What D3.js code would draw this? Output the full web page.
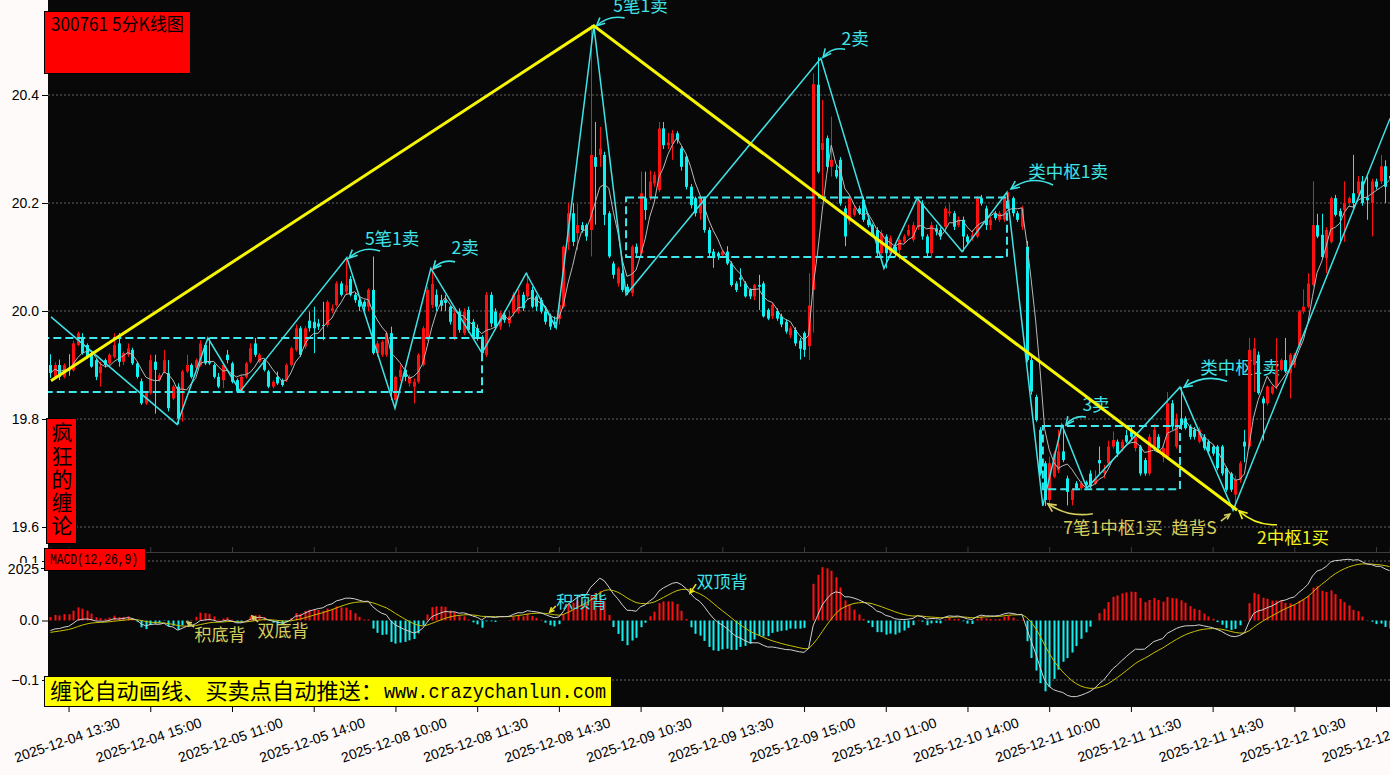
<!DOCTYPE html>
<html><head><meta charset="utf-8">
<script src="https://cdn.jsdelivr.net/npm/d3@7"></script>
<style>
html,body{margin:0;padding:0;background:#fffafa;overflow:hidden;}
svg{display:block;}
</style></head>
<body>
<svg id="c" width="1390" height="775"></svg>
<script>
// ---------------- DATA (5-minute bars, index 0 = 2025-12-04 13:10) ----------------
const open = [19.900,19.878,19.900,19.878,19.895,19.890,19.937,19.952,19.937,19.922,19.909,19.885,19.909,19.903,19.915,19.940,19.906,19.919,19.928,19.903,19.870,19.829,19.848,19.906,19.872,19.888,19.885,19.838,19.860,19.854,19.888,19.900,19.895,19.900,19.937,19.906,19.900,19.878,19.872,19.919,19.903,19.872,19.851,19.878,19.906,19.940,19.906,19.909,19.888,19.860,19.878,19.872,19.872,19.900,19.928,19.968,
19.934,19.982,19.980,19.977,19.974,19.974,20.000,20.011,20.051,20.036,20.059,20.030,20.020,20.017,20.008,20.039,19.922,19.919,19.919,19.959,19.835,19.878,19.891,19.866,19.860,19.869,19.900,19.949,20.011,20.030,20.020,20.020,20.008,19.952,19.999,19.959,20.002,19.980,19.968,19.952,19.919,20.030,19.999,19.971,19.993,19.977,19.996,19.999,20.030,20.027,20.039,20.027,20.020,19.999,19.990,19.980,19.985,
20.008,20.128,20.181,20.144,20.159,20.159,20.150,20.285,20.289,20.289,20.181,20.088,20.051,20.070,20.045,20.033,20.119,20.107,20.209,20.209,20.236,20.224,20.338,20.307,20.310,20.329,20.301,20.286,20.230,20.209,20.181,20.209,20.150,20.110,20.107,20.104,20.110,20.088,20.051,20.062,20.051,20.039,20.027,20.048,20.051,20.002,19.990,20.000,19.990,19.980,19.955,19.965,19.945,19.959,
19.935,20.039,20.419,20.298,20.320,20.267,20.261,20.280,20.190,20.166,20.178,20.190,20.206,20.169,20.159,20.150,20.107,20.138,20.107,20.119,20.113,20.128,20.141,20.132,20.156,20.199,20.138,20.107,20.153,20.150,20.156,20.181,20.181,20.159,20.169,20.138,20.135,20.138,20.209,20.190,20.159,20.181,20.169,20.169,20.190,20.209,20.181,20.156,
20.119,19.909,19.841,19.780,19.718,19.650,19.693,19.705,19.740,19.690,19.650,19.681,19.672,19.683,19.699,19.680,19.724,19.700,19.718,19.749,19.758,19.746,19.770,19.777,19.746,19.749,19.724,19.699,19.749,19.767,19.730,19.730,19.829,19.749,19.801,19.801,19.786,19.780,19.758,19.767,19.758,19.749,19.749,19.749,19.709,19.699,19.660,19.687,
19.758,19.749,19.900,19.919,19.838,19.829,19.848,19.860,19.891,19.909,19.885,19.900,19.937,19.999,20.008,20.048,20.159,20.141,20.098,20.128,20.209,20.185,20.187,20.200,20.218,20.218,20.240,20.210,20.200,20.240,20.240,20.268,20.250];
const high = [19.920,19.905,19.910,19.903,19.920,19.945,19.962,19.959,19.940,19.925,19.912,19.906,19.912,19.922,19.959,19.959,19.925,19.940,19.932,19.906,19.875,19.851,19.919,19.919,19.885,19.928,19.909,19.863,19.866,19.891,19.919,19.903,19.912,19.946,19.940,19.950,19.903,19.885,19.903,19.928,19.906,19.875,19.881,19.906,19.940,19.950,19.922,19.912,19.891,19.872,19.888,19.875,19.903,19.934,19.975,19.972,
19.972,19.999,20.008,19.985,20.017,20.020,20.012,20.055,20.055,20.099,20.065,20.035,20.025,20.020,20.042,20.101,19.945,19.946,19.962,19.971,19.880,19.900,19.895,19.882,19.875,19.922,19.972,20.045,20.079,20.040,20.030,20.030,20.010,20.000,20.005,20.005,20.008,19.985,19.975,19.955,20.035,20.035,20.005,20.000,19.999,19.999,20.035,20.040,20.035,20.070,20.045,20.030,20.025,20.005,19.995,19.990,20.015,
20.122,20.200,20.200,20.199,20.165,20.162,20.530,20.350,20.341,20.295,20.185,20.092,20.082,20.075,20.050,20.122,20.125,20.258,20.258,20.260,20.258,20.350,20.350,20.330,20.335,20.333,20.305,20.290,20.235,20.212,20.212,20.212,20.155,20.115,20.110,20.113,20.120,20.092,20.055,20.079,20.055,20.042,20.050,20.067,20.055,20.005,20.015,20.005,19.995,19.985,19.972,19.970,19.950,19.962,
20.070,20.440,20.470,20.391,20.325,20.360,20.270,20.285,20.195,20.212,20.195,20.195,20.212,20.172,20.162,20.155,20.150,20.142,20.140,20.125,20.135,20.142,20.160,20.165,20.212,20.205,20.142,20.165,20.160,20.155,20.195,20.199,20.185,20.175,20.175,20.142,20.150,20.212,20.215,20.195,20.175,20.185,20.185,20.212,20.220,20.212,20.185,20.195,
20.130,19.915,19.845,19.785,19.722,19.730,19.740,19.780,19.789,19.695,19.672,19.685,19.685,19.686,19.705,19.705,19.749,19.715,19.760,19.777,19.762,19.762,19.780,19.787,19.772,19.752,19.728,19.772,19.790,19.772,19.750,19.850,19.835,19.810,19.859,19.805,19.790,19.785,19.785,19.772,19.762,19.752,19.752,19.752,19.712,19.702,19.695,19.722,
19.780,19.950,19.950,19.925,19.842,19.862,19.862,19.950,19.912,19.950,19.922,19.922,20.002,20.040,20.070,20.240,20.180,20.180,20.155,20.212,20.215,20.190,20.240,20.212,20.289,20.250,20.250,20.249,20.245,20.245,20.289,20.279,20.260];
const low = [19.876,19.875,19.872,19.875,19.880,19.888,19.935,19.919,19.912,19.895,19.872,19.860,19.895,19.900,19.912,19.897,19.900,19.915,19.900,19.875,19.826,19.826,19.845,19.810,19.869,19.885,19.814,19.835,19.790,19.795,19.885,19.875,19.892,19.897,19.900,19.900,19.875,19.857,19.857,19.903,19.866,19.849,19.849,19.875,19.903,19.915,19.903,19.888,19.857,19.857,19.863,19.860,19.869,19.897,19.925,19.915,
19.930,19.962,19.922,19.965,19.946,19.970,19.996,20.008,20.027,20.030,20.027,20.015,20.000,20.000,20.000,19.919,19.915,19.915,19.915,19.835,19.820,19.870,19.870,19.860,19.829,19.866,19.897,19.945,20.005,20.000,20.000,20.000,19.975,19.946,19.960,19.955,19.960,19.948,19.945,19.920,19.915,19.970,19.965,19.965,19.978,19.970,19.990,19.995,20.000,20.020,20.005,20.000,19.995,19.975,19.965,19.969,19.975,
20.005,20.113,20.120,20.113,20.145,20.130,20.101,20.160,20.267,20.159,20.098,20.060,20.045,20.035,20.030,20.027,20.100,20.100,20.169,20.205,20.230,20.220,20.300,20.300,20.280,20.310,20.260,20.225,20.190,20.175,20.169,20.145,20.100,20.080,20.095,20.100,20.085,20.045,20.035,20.045,20.025,20.022,20.020,20.002,19.988,19.983,19.985,19.982,19.970,19.958,19.950,19.935,19.910,19.915,
19.909,19.960,20.255,20.212,20.262,20.249,20.245,20.195,20.120,20.160,20.175,20.178,20.165,20.155,20.138,20.100,20.100,20.079,20.100,20.100,20.095,20.125,20.138,20.128,20.150,20.132,20.100,20.100,20.140,20.132,20.150,20.175,20.150,20.155,20.110,20.122,20.130,20.135,20.195,20.150,20.150,20.168,20.165,20.165,20.185,20.175,20.165,20.150,
19.905,19.845,19.795,19.695,19.639,19.645,19.690,19.700,19.720,19.640,19.640,19.668,19.668,19.672,19.672,19.678,19.699,19.690,19.715,19.745,19.730,19.740,19.755,19.762,19.740,19.695,19.695,19.695,19.745,19.740,19.720,19.725,19.780,19.745,19.780,19.780,19.762,19.762,19.755,19.742,19.735,19.732,19.705,19.695,19.665,19.665,19.631,19.682,
19.720,19.745,19.850,19.845,19.760,19.825,19.845,19.855,19.888,19.885,19.838,19.895,19.932,19.995,20.005,20.045,20.135,20.098,20.070,20.125,20.175,20.128,20.128,20.195,20.190,20.215,20.195,20.169,20.138,20.225,20.235,20.200,20.240];
const close = [19.885,19.900,19.878,19.900,19.890,19.940,19.959,19.922,19.915,19.897,19.878,19.897,19.900,19.919,19.937,19.906,19.922,19.931,19.903,19.878,19.829,19.848,19.909,19.891,19.881,19.909,19.820,19.860,19.801,19.888,19.900,19.878,19.909,19.940,19.903,19.903,19.878,19.860,19.900,19.909,19.869,19.851,19.878,19.903,19.931,19.919,19.919,19.891,19.860,19.869,19.866,19.863,19.900,19.931,19.968,19.919,
19.968,19.968,19.968,19.971,19.973,20.017,20.005,20.051,20.030,20.048,20.030,20.020,20.008,20.008,20.039,19.922,19.940,19.943,19.959,19.851,19.878,19.891,19.878,19.878,19.869,19.919,19.968,20.039,20.050,20.008,20.010,20.015,19.980,19.996,19.965,19.999,19.965,19.952,19.952,19.922,20.030,19.977,19.971,19.996,19.983,19.990,20.030,20.030,20.005,20.051,20.008,20.008,19.999,19.980,19.971,19.975,20.011,
20.119,20.181,20.128,20.159,20.150,20.138,20.289,20.267,20.301,20.178,20.101,20.067,20.079,20.039,20.035,20.119,20.107,20.218,20.187,20.240,20.252,20.338,20.307,20.312,20.329,20.317,20.267,20.230,20.196,20.181,20.209,20.150,20.107,20.098,20.101,20.110,20.088,20.048,20.039,20.058,20.027,20.027,20.048,20.045,19.990,19.986,20.011,19.986,19.975,19.962,19.968,19.940,19.930,19.928,
20.010,20.420,20.258,20.311,20.267,20.280,20.249,20.199,20.138,20.209,20.190,20.181,20.169,20.159,20.141,20.107,20.144,20.107,20.135,20.107,20.132,20.138,20.150,20.159,20.206,20.138,20.107,20.159,20.147,20.138,20.190,20.184,20.156,20.169,20.138,20.128,20.141,20.209,20.199,20.159,20.169,20.172,20.181,20.209,20.206,20.181,20.169,20.190,
19.909,19.851,19.798,19.699,19.650,19.718,19.736,19.740,19.724,19.665,19.669,19.672,19.681,19.678,19.675,19.690,19.718,19.705,19.749,19.761,19.736,19.758,19.758,19.767,19.767,19.699,19.699,19.767,19.780,19.746,19.746,19.829,19.786,19.801,19.789,19.783,19.767,19.767,19.780,19.746,19.740,19.736,19.709,19.699,19.669,19.669,19.687,19.718,
19.749,19.928,19.931,19.848,19.829,19.860,19.860,19.891,19.909,19.888,19.919,19.919,19.999,20.008,20.051,20.159,20.138,20.100,20.150,20.209,20.178,20.175,20.200,20.209,20.200,20.240,20.200,20.205,20.240,20.230,20.268,20.230,20.245];

const xTickIndex = [4,22,40,58,76,94,112,130,148,166,184,202,220,238,256,274,292];
const xTickLabels = ["2025-12-04 13:30","2025-12-04 15:00","2025-12-05 11:00","2025-12-05 14:00","2025-12-08 10:00","2025-12-08 11:30","2025-12-08 14:30","2025-12-09 10:30","2025-12-09 13:30","2025-12-09 15:00","2025-12-10 11:00","2025-12-10 14:00","2025-12-11 10:00","2025-12-11 11:30","2025-12-11 14:30","2025-12-12 10:30","2025-12-12 13:30"];
const priceTicks = [19.6,19.8,20.0,20.2,20.4];
const macdTicks = [-0.1,0.0,0.1];
// 线段 (yellow) vertices [bar index, price]
const segmentPoints = [[0.13,19.871],[119.7,20.528],[261.4,19.631]];
// 笔 (cyan) vertices [bar index, price]
const strokePoints = [[0.13,19.989],[27.9,19.790],[34.7,19.950],[41.8,19.851],[65.3,20.099],[75.9,19.820],[83.8,20.079],[95.07,19.922],[104.8,20.070],[111.4,19.969],[119.7,20.528],[126.8,20.030],[169.7,20.468],[183.6,20.079],[190.9,20.209],[200.8,20.110],[210.7,20.220],[218.6,19.639],[222.8,19.789],[228.3,19.672],[248.8,19.859],[260.5,19.631],[295.1,20.357]];
// 中枢 boxes
const pivotStart = [-2,126.8,218.6];
const pivotEnd = [95.07,210.7,248.8];
const pivotLow = [19.85,20.10,19.67];
const pivotHigh = [19.95,20.21,19.787];
// annotations on price panel: arrow tip at (index, price)
const annText = ["5笔1卖","2卖","5笔1卖","2卖","类中枢1卖","3卖","类中枢1卖","7笔1中枢1买","趋背S","2中枢1买"];
const annIndex = [120.3,170.2,65.8,84.3,211.6,223.7,249.7,219.7,259.8,261.8];
const annPrice = [20.528,20.470,20.098,20.078,20.226,19.789,19.859,19.643,19.624,19.630];
const annKind = ["c","c","c","c","c","c","c","k","k","y"];
// annotations on MACD panel: arrow tip at (index, macd value)
const macdAnnText = ["积底背","双底背","积顶背","双顶背"];
const macdAnnIndex = [30.1,44.4,110.0,140.9];
const macdAnnValue = [-0.0025,0.0076,0.0142,0.046];
const macdAnnKind = ["k","k","c","c"];

// ---------------- LAYOUT ----------------
const W = 1390, H = 775;
const N = close.length;
const svg = d3.select("#c");
const x = d3.scaleLinear().domain([0, 295]).range([50.4, 50.4 + 295 * 4.54]);
const y = d3.scaleLinear().domain([19.6, 20.4]).range([527, 95]);
const ym = d3.scaleLinear().domain([-0.1, 0.1]).range([680, 561]);
const CY = "#3fe3e6", KH = "#d6cf5e", YE = "#f4f41c";
const colorOf = k => k === "c" ? CY : (k === "k" ? KH : YE);
const cjk = "'Noto Sans CJK SC','Noto Sans',sans-serif";

svg.append("rect").attr("x", 48).attr("y", 0).attr("width", W - 48).attr("height", 707).attr("fill", "#080808");
const defs = svg.append("defs");
defs.append("clipPath").attr("id", "cm").append("rect").attr("x", 48).attr("y", 0).attr("width", W - 48).attr("height", 551);
defs.append("clipPath").attr("id", "cd").append("rect").attr("x", 48).attr("y", 553).attr("width", W - 48).attr("height", 154);

const gMain = svg.append("g").attr("clip-path", "url(#cm)");
const gMacd = svg.append("g").attr("clip-path", "url(#cd)");

// grid
gMain.selectAll(".grid").data(priceTicks).join("line")
  .attr("x1", 48).attr("x2", W).attr("y1", d => y(d)).attr("y2", d => y(d))
  .attr("stroke", "#363636").attr("stroke-width", 2).attr("stroke-dasharray", "2,2");
gMacd.selectAll(".grid").data([-0.1, 0.1]).join("line")
  .attr("x1", 48).attr("x2", W).attr("y1", d => ym(d)).attr("y2", d => ym(d))
  .attr("stroke", "#363636").attr("stroke-width", 2).attr("stroke-dasharray", "2,2");

// arrow helper
function arrow(g, x1, y1, x2, y2, rad, color, hl) {
  const mx = (x1 + x2) / 2, my = (y1 + y2) / 2, dx = x2 - x1, dy = y2 - y1;
  const cx = mx + rad * dy, cy = my - rad * dx;
  g.append("path").attr("d", `M${x1},${y1} Q${cx},${cy} ${x2},${y2}`)
    .attr("fill", "none").attr("stroke", color).attr("stroke-width", 1.6);
  const a = Math.atan2(y2 - cy, x2 - cx), L = hl || 9;
  const p1 = [x2 - L * Math.cos(a - 0.45), y2 - L * Math.sin(a - 0.45)];
  const p2 = [x2 - L * Math.cos(a + 0.45), y2 - L * Math.sin(a + 0.45)];
  g.append("path").attr("d", `M${p1[0]},${p1[1]} L${x2},${y2} L${p2[0]},${p2[1]}`)
    .attr("fill", "none").attr("stroke", color).attr("stroke-width", 1.6);
}

// price-panel annotations (style offsets in px relative to arrow tip)
const annStart = [[28,-8],[22,-8],[31,-7],[22,-7],[42,-4],[20,-8],[43,-6],[45,10],[-9,7],[38,14]];
const annTextOff = [[44,-21],[32,-20],[43,-21],[32,-22],[57,-18],[30,-21],[56,-21],[65,23],[-36,12],[54,26]];
const annRad = [-0.25,-0.3,-0.3,-0.3,-0.3,-0.3,-0.25,0.2,0,0.2];
const gAnn = gMain.append("g");
annText.forEach((t, k) => {
  const tx = x(annIndex[k]), ty = y(annPrice[k]);
  gAnn.append("text").attr("x", tx + annTextOff[k][0]).attr("y", ty + annTextOff[k][1])
    .attr("text-anchor", "middle").attr("dominant-baseline", "central")
    .attr("font-family", cjk).attr("font-size", 17.5).attr("fill", colorOf(annKind[k])).text(t);
  arrow(gAnn, tx + annStart[k][0], ty + annStart[k][1], tx, ty, annRad[k], colorOf(annKind[k]), k === 8 ? 6 : 9);
});

// candles
const up = i => close[i] > open[i];
gMain.append("g").selectAll("line").data(d3.range(N)).join("line")
  .attr("x1", i => Math.round(x(i)) + 0.5).attr("x2", i => Math.round(x(i)) + 0.5)
  .attr("y1", i => y(high[i])).attr("y2", i => y(low[i]))
  .attr("stroke", i => up(i) ? "#ff1010" : "#10f0f0").attr("stroke-width", 1);
gMain.append("g").selectAll("rect").data(d3.range(N)).join("rect")
  .attr("x", i => Math.round(x(i)) - 1).attr("width", 3)
  .attr("y", i => y(Math.max(open[i], close[i])))
  .attr("height", i => Math.max(1, Math.abs(y(open[i]) - y(close[i]))))
  .attr("fill", i => up(i) ? "#ff1010" : "#10f0f0");

// MA5
const ma = close.map((c, i) => d3.mean(close.slice(Math.max(0, i - 4), i + 1)));
gMain.append("path").datum(d3.range(N))
  .attr("d", d3.line().x(i => x(i)).y(i => y(ma[i])))
  .attr("fill", "none").attr("stroke", "#b8b8b8").attr("stroke-width", 1);

// pivot boxes
pivotStart.forEach((s, k) => {
  gMain.append("rect").attr("x", x(s)).attr("y", y(pivotHigh[k]))
    .attr("width", x(pivotEnd[k]) - x(s)).attr("height", y(pivotLow[k]) - y(pivotHigh[k]))
    .attr("fill", "none").attr("stroke", "#3fe8ee").attr("stroke-width", 2).attr("stroke-dasharray", "8,4");
});

// strokes (笔)
gMain.append("path").datum(strokePoints)
  .attr("d", d3.line().x(d => x(d[0])).y(d => y(d[1])))
  .attr("fill", "none").attr("stroke", CY).attr("stroke-width", 1.5);
// segment (线段)
gMain.append("path").datum(segmentPoints)
  .attr("d", d3.line().x(d => x(d[0])).y(d => y(d[1])))
  .attr("fill", "none").attr("stroke", "#f6f600").attr("stroke-width", 3);

// ---------------- MACD(12,26,9) from closes ----------------
let e12 = close[0] - 0.005, e26 = close[0] + 0.012, dea = -0.02;
const dif = [], deaArr = [], hist = [];
close.forEach((c, i) => {
  if (i > 0) { e12 += (c - e12) * 2 / 13; e26 += (c - e26) * 2 / 27; }
  const d = e12 - e26;
  if (i > 0) dea += (d - dea) * 2 / 10;
  dif.push(d); deaArr.push(dea); hist.push(2 * (d - dea));
});
gMacd.append("g").selectAll("rect").data(d3.range(N)).join("rect")
  .attr("x", i => Math.round(x(i)) - 0.5).attr("width", 2)
  .attr("y", i => Math.min(ym(0), ym(hist[i])))
  .attr("height", i => Math.abs(ym(hist[i]) - ym(0)))
  .attr("fill", i => hist[i] >= 0 ? "#ff1010" : "#10f0f0");
gMacd.append("path").datum(d3.range(N))
  .attr("d", d3.line().x(i => x(i)).y(i => ym(deaArr[i])))
  .attr("fill", "none").attr("stroke", "#c8c000").attr("stroke-width", 1);
gMacd.append("path").datum(d3.range(N))
  .attr("d", d3.line().x(i => x(i)).y(i => ym(dif[i])))
  .attr("fill", "none").attr("stroke", "#d0d0d0").attr("stroke-width", 1);

const macdStart = [[7,5],[6,6],[6,-6],[6,-9]];
const macdTextOff = [[33,12],[31,14],[32,-12],[32,-13]];
macdAnnText.forEach((t, k) => {
  const tx = x(macdAnnIndex[k]), ty = ym(macdAnnValue[k]);
  gMacd.append("text").attr("x", tx + macdTextOff[k][0]).attr("y", ty + macdTextOff[k][1])
    .attr("text-anchor", "middle").attr("dominant-baseline", "central")
    .attr("font-family", cjk).attr("font-size", 17).attr("fill", colorOf(macdAnnKind[k])).text(t);
  arrow(gMacd, tx + macdStart[k][0], ty + macdStart[k][1], tx, ty, 0, macdAnnKind[k] === "k" ? KH : "#e8e020", 5);
});

// separation spine between panels
const spine = svg.append("g").attr("transform", "translate(0,552)")
  .call(d3.axisTop(x).tickValues(xTickIndex).tickSize(5).tickFormat(""));
spine.select(".domain").attr("stroke", "#3c3c3c");
spine.selectAll(".tick line").attr("stroke", "#3c3c3c");

// ---------------- AXES ----------------
const tickFont = "'Liberation Sans',Arial,sans-serif";
const ay = svg.append("g").attr("transform", "translate(48,0)")
  .call(d3.axisLeft(y).tickValues(priceTicks).tickFormat(d3.format(".1f")).tickSize(6));
ay.select(".domain").remove();
ay.selectAll("text").attr("font-family", tickFont).attr("font-size", 14).attr("fill", "#000");
ay.selectAll(".tick line").attr("stroke", "#000");

const am = svg.append("g").attr("transform", "translate(48,0)")
  .call(d3.axisLeft(ym).tickValues(macdTicks).tickFormat(d3.format(".1f")).tickSize(6));
am.select(".domain").remove();
am.selectAll("text").attr("font-family", tickFont).attr("font-size", 14).attr("fill", "#000");
am.selectAll(".tick line").attr("stroke", "#000");
// overlapping "2025" label at top-left of MACD panel (as in the reference)
svg.append("rect").attr("x", 8).attr("y", 563).attr("width", 32).attr("height", 12).attr("fill", "#fffafa");
svg.append("text").attr("x", 39).attr("y", 569).attr("text-anchor", "end").attr("dominant-baseline", "central")
  .attr("font-family", tickFont).attr("font-size", 14).text("2025");
svg.append("line").attr("x1", 41).attr("x2", 48).attr("y1", 568.5).attr("y2", 568.5).attr("stroke", "#000");

const ax = svg.append("g").attr("transform", "translate(0,707)")
  .call(d3.axisBottom(x).tickValues(xTickIndex).tickFormat((d, k) => xTickLabels[k]).tickSize(5));
ax.select(".domain").remove();
ax.selectAll(".tick line").attr("stroke", "#000");
ax.selectAll("text").attr("font-family", tickFont).attr("font-size", 14).attr("fill", "#000")
  .attr("y", 0).attr("dy", "0.35em").attr("text-anchor", "middle")
  .attr("transform", "translate(-2,33) rotate(-19)");

// ---------------- LABEL BOXES ----------------
svg.append("rect").attr("x", 44.5).attr("y", 11.5).attr("width", 146).attr("height", 62)
  .attr("fill", "#ff0000").attr("stroke", "#000").attr("stroke-width", 1);
svg.append("text").attr("x", 51).attr("y", 31).attr("font-family", cjk).attr("font-size", 18)
  .attr("textLength", 133).attr("lengthAdjust", "spacingAndGlyphs").attr("fill", "#000").text("300761 5分K线图");

svg.append("rect").attr("x", 46.5).attr("y", 418.5).attr("width", 30).attr("height", 125)
  .attr("fill", "#ff0000").attr("stroke", "#000").attr("stroke-width", 1);
svg.append("text").attr("x", 62).attr("y", 422)
  .attr("writing-mode", "vertical-rl").attr("text-orientation", "upright")
  .attr("letter-spacing", 2.2).attr("font-family", cjk)
  .attr("font-size", 21).attr("fill", "#000").text("疯狂的缠论");

svg.append("rect").attr("x", 44.5).attr("y", 548.5).attr("width", 101).attr("height", 22)
  .attr("fill", "#ff0000").attr("stroke", "#000").attr("stroke-width", 1);
svg.append("text").attr("x", 50).attr("y", 560).attr("dominant-baseline", "central")
  .attr("font-family", "'Liberation Mono','DejaVu Sans Mono',monospace").attr("font-size", 14)
  .attr("textLength", 88).attr("lengthAdjust", "spacingAndGlyphs").attr("fill", "#000").text("MACD(12,26,9)");

svg.append("rect").attr("x", 44.5).attr("y", 676.5).attr("width", 567).attr("height", 30)
  .attr("fill", "#ffff00").attr("stroke", "#000").attr("stroke-width", 1);
svg.append("text").attr("x", 50).attr("y", 699).attr("font-family", cjk).attr("font-size", 22)
  .attr("textLength", 333).attr("lengthAdjust", "spacingAndGlyphs").attr("fill", "#000").text("缠论自动画线、买卖点自动推送：");
svg.append("text").attr("x", 384).attr("y", 698).attr("font-family", "'Liberation Mono','DejaVu Sans Mono',monospace").attr("font-size", 21)
  .attr("textLength", 222).attr("lengthAdjust", "spacingAndGlyphs").attr("fill", "#000").text("www.crazychanlun.com");
</script>
</body></html>
